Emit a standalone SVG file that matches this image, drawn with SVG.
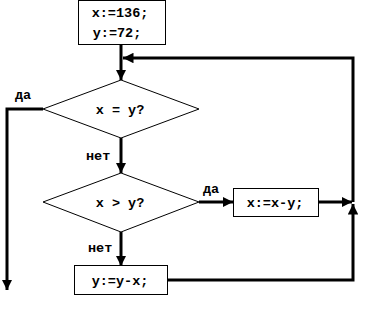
<svg xmlns="http://www.w3.org/2000/svg" width="384" height="317" viewBox="0 0 384 317">
<style>
.node{fill:#fff;stroke:#000;stroke-width:1}
.t{font-family:"Liberation Mono","Courier New",monospace;font-weight:bold;font-size:13.5px;fill:#000}
.c{fill:none;stroke:#000;stroke-width:3}
</style>
<defs>
<marker id="a" viewBox="0 0 10 10" refX="10" refY="5" markerWidth="3.5" markerHeight="3.5" orient="auto" markerUnits="strokeWidth">
<path d="M0,0 L10,5 L0,10 Z" fill="#000"/>
</marker>
</defs>
<rect width="384" height="317" fill="#fff"/>
<g id="connectors">
<line class="c" x1="121" y1="45" x2="121" y2="80" marker-end="url(#a)"/>
<polyline class="c" points="353,202 353,58 123,58" marker-end="url(#a)"/>
<polyline class="c" points="43,109 7,109 7,290" marker-end="url(#a)"/>
<line class="c" x1="121" y1="138" x2="121" y2="173" marker-end="url(#a)"/>
<line class="c" x1="121" y1="232" x2="121" y2="266" marker-end="url(#a)"/>
<line class="c" x1="199" y1="202" x2="233" y2="202" marker-end="url(#a)"/>
<line class="c" x1="318" y1="202" x2="352" y2="202" marker-end="url(#a)"/>
<polyline class="c" points="167,280 353,280 353,204" marker-end="url(#a)"/>
</g>
<g id="start">
<rect class="node" x="78.5" y="0.5" width="87" height="44"/>
<text class="t" x="120" y="17" text-anchor="middle">x:=136;</text>
<text class="t" x="117" y="37" text-anchor="middle">y:=72;</text>
</g>
<g id="cond1">
<polygon class="node" points="121,80 199,109 121,138 43,109"/>
<text class="t" x="120" y="114" text-anchor="middle">x = y?</text>
</g>
<g id="cond2">
<polygon class="node" points="121,173 199,202 121,232 43,202"/>
<text class="t" x="120" y="207" text-anchor="middle">x &gt; y?</text>
</g>
<g id="assign1">
<rect class="node" x="233.5" y="188.5" width="85" height="28"/>
<text class="t" x="275" y="207" text-anchor="middle">x:=x-y;</text>
</g>
<g id="assign2">
<rect class="node" x="74.5" y="265.5" width="93" height="29"/>
<text class="t" x="120" y="285" text-anchor="middle">y:=y-x;</text>
</g>
<g id="labels">
<text class="t" x="15" y="99">да</text>
<text class="t" x="86" y="160">нет</text>
<text class="t" x="88" y="252">нет</text>
<text class="t" x="203" y="193">да</text>
</g>
</svg>
